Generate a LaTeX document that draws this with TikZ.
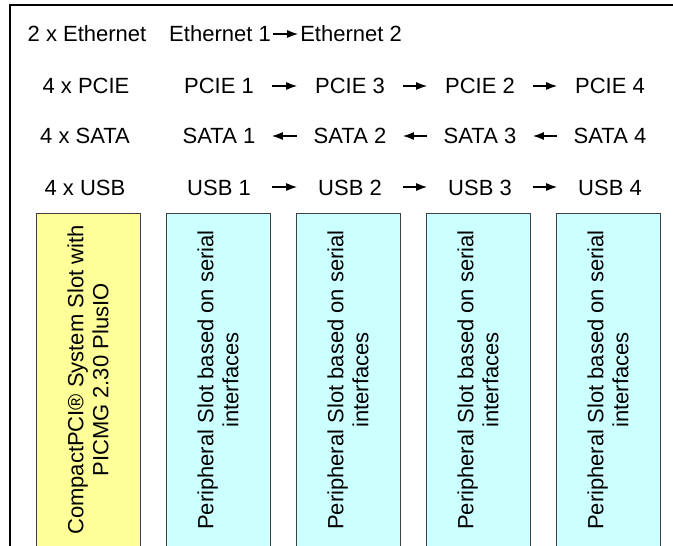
\documentclass[tikz,border=0pt]{standalone}
\usepackage{fontspec}
\setmainfont{Liberation Sans}
\usetikzlibrary{arrows.meta}
\definecolor{sysyellow}{HTML}{FFFF99}
\definecolor{periphcyan}{HTML}{CCFFFF}
\begin{document}
\begin{tikzpicture}[x=0.5pt, y=-0.5pt,
    every node/.style={font=\fontsize{11}{12.5}\selectfont},
    lane/.style={anchor=base, inner sep=0pt, text height=8pt, text depth=0pt},
    iface/.style={lane, minimum width=52.5pt},
    link/.style={-{Latex[length=5.5pt,width=4pt]}, line width=0.6pt},
    slot/.style={draw=black!75, line width=0.5pt, rotate=90, minimum width=167pt,
        minimum height=52pt, align=center, inner sep=0pt}]
    \useasboundingbox (0,0) rectangle (673,545);

    % frame
    \draw[line width=1pt] (10,548) -- (10,5) -- (676,5);

    % row labels
    \node[lane] (eth) at (87,42) {2 x Ethernet};
    \node[lane] (pcie) at (86,94) {4 x PCIE};
    \node[lane] (sata) at (85,144) {4 x SATA};
    \node[lane] (usb) at (85,195) {4 x USB};

    % interfaces
    \node[iface] (e1) at (220,42) {Ethernet 1};
    \node[iface] (e2) at (351,42) {Ethernet 2};

    \node[iface] (p1) at (219,94) {PCIE 1};
    \node[iface] (p3) at (350,94) {PCIE 3};
    \node[iface] (p2) at (480,94) {PCIE 2};
    \node[iface] (p4) at (610,94) {PCIE 4};

    \node[iface] (s1) at (219,144) {SATA 1};
    \node[iface] (s2) at (350,144) {SATA 2};
    \node[iface] (s3) at (480,144) {SATA 3};
    \node[iface] (s4) at (610,144) {SATA 4};

    \node[iface] (u1) at (219,195) {USB 1};
    \node[iface] (u2) at (350,195) {USB 2};
    \node[iface] (u3) at (480,195) {USB 3};
    \node[iface] (u4) at (610,195) {USB 4};

    % chaining
    \draw[link] (e1) -- (e2);
    \draw[link] (p1) -- (p3);
    \draw[link] (p3) -- (p2);
    \draw[link] (p2) -- (p4);
    \draw[link] (s2) -- (s1);
    \draw[link] (s3) -- (s2);
    \draw[link] (s4) -- (s3);
    \draw[link] (u1) -- (u2);
    \draw[link] (u2) -- (u3);
    \draw[link] (u3) -- (u4);

    % slots
    \node[slot, fill=sysyellow] (sys) at (88,380) {CompactPCI\textregistered{} System Slot with\\PICMG 2.30 PlusIO};
    \node[slot, fill=periphcyan] (per1) at (218,380) {Peripheral Slot based on serial\\interfaces};
    \node[slot, fill=periphcyan] (per2) at (348,380) {Peripheral Slot based on serial\\interfaces};
    \node[slot, fill=periphcyan] (per3) at (478,380) {Peripheral Slot based on serial\\interfaces};
    \node[slot, fill=periphcyan] (per4) at (608,380) {Peripheral Slot based on serial\\interfaces};
\end{tikzpicture}
\end{document}
